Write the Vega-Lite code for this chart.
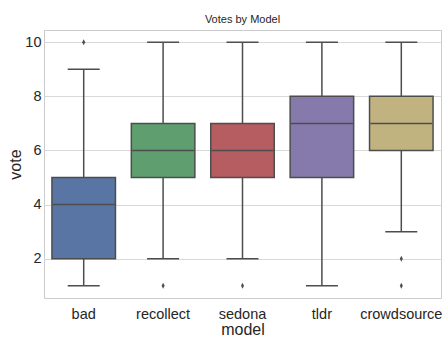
{
  "$schema": "https://vega.github.io/schema/vega-lite/v6.json",
  "autosize": "none",
  "width": 397,
  "height": 268,
  "padding": {"left": 44, "top": 30, "right": 4, "bottom": 40},
  "background": "white",
  "title": {"text": "Votes by Model", "fontSize": 11, "fontWeight": "normal", "font": "Liberation Sans", "color": "#262626", "offset": 5},
  "config": {
    "font": "Liberation Sans",
    "view": {"stroke": "#cccccc", "strokeWidth": 1},
    "axis": {"labelColor": "#262626", "titleColor": "#262626", "labelFontSize": 14.5, "titleFontSize": 16, "titleFontWeight": "normal", "ticks": false, "domain": false, "gridColor": "#d9d9d9", "gridWidth": 1}
  },
  "datasets": {
    "boxes": [
      {"model": "bad", "lower": 1, "q1": 2, "median": 4, "q3": 5, "upper": 9},
      {"model": "recollect", "lower": 2, "q1": 5, "median": 6, "q3": 7, "upper": 10},
      {"model": "sedona", "lower": 2, "q1": 5, "median": 6, "q3": 7, "upper": 10},
      {"model": "tldr", "lower": 1, "q1": 5, "median": 7, "q3": 8, "upper": 10},
      {"model": "crowdsource", "lower": 3, "q1": 6, "median": 7, "q3": 8, "upper": 10}
    ],
    "outliers": [
      {"model": "bad", "vote": 10},
      {"model": "recollect", "vote": 1},
      {"model": "sedona", "vote": 1},
      {"model": "crowdsource", "vote": 2},
      {"model": "crowdsource", "vote": 1}
    ]
  },
  "encoding": {
    "x": {"field": "model", "type": "nominal", "sort": ["bad", "recollect", "sedona", "tldr", "crowdsource"],
      "scale": {"paddingInner": 0, "paddingOuter": 0},
      "axis": {"labelAngle": 0, "grid": false, "labelPadding": 9, "titlePadding": 1, "title": "model"}}
  },
  "layer": [
    {
      "data": {"name": "boxes"},
      "mark": {"type": "rule", "stroke": "#4d4d4d", "strokeWidth": 1.5},
      "encoding": {
        "y": {"field": "lower", "type": "quantitative", "scale": {"domain": [0.55, 10.45], "nice": false, "zero": false},
          "axis": {"values": [2, 4, 6, 8, 10], "title": "vote", "labelPadding": 3, "titlePadding": 1}},
        "y2": {"field": "upper"}
      }
    },
    {
      "data": {"name": "boxes"},
      "mark": {"type": "bar", "width": {"band": 0.8}, "stroke": "#4d4d4d", "strokeWidth": 1.5},
      "encoding": {
        "y": {"field": "q1", "type": "quantitative"},
        "y2": {"field": "q3"},
        "color": {"field": "model", "type": "nominal", "legend": null,
          "scale": {"domain": ["bad", "recollect", "sedona", "tldr", "crowdsource"], "range": ["#5975a4", "#5f9e6e", "#b55d60", "#857aab", "#c1b37f"]}}
      }
    },
    {
      "data": {"name": "boxes"},
      "mark": {"type": "tick", "color": "#4d4d4d", "opacity": 1, "size": 62, "thickness": 1.5},
      "encoding": {"y": {"field": "median", "type": "quantitative"}}
    },
    {
      "data": {"name": "boxes"},
      "mark": {"type": "tick", "color": "#4d4d4d", "opacity": 1, "size": 32, "thickness": 1.5},
      "encoding": {"y": {"field": "lower", "type": "quantitative"}}
    },
    {
      "data": {"name": "boxes"},
      "mark": {"type": "tick", "color": "#4d4d4d", "opacity": 1, "size": 32, "thickness": 1.5},
      "encoding": {"y": {"field": "upper", "type": "quantitative"}}
    },
    {
      "data": {"name": "outliers"},
      "mark": {"type": "point", "shape": "M0,-1L0.5,0L0,1L-0.5,0Z", "filled": true, "color": "#4d4d4d", "opacity": 1, "size": 36},
      "encoding": {"y": {"field": "vote", "type": "quantitative"}}
    }
  ]
}
